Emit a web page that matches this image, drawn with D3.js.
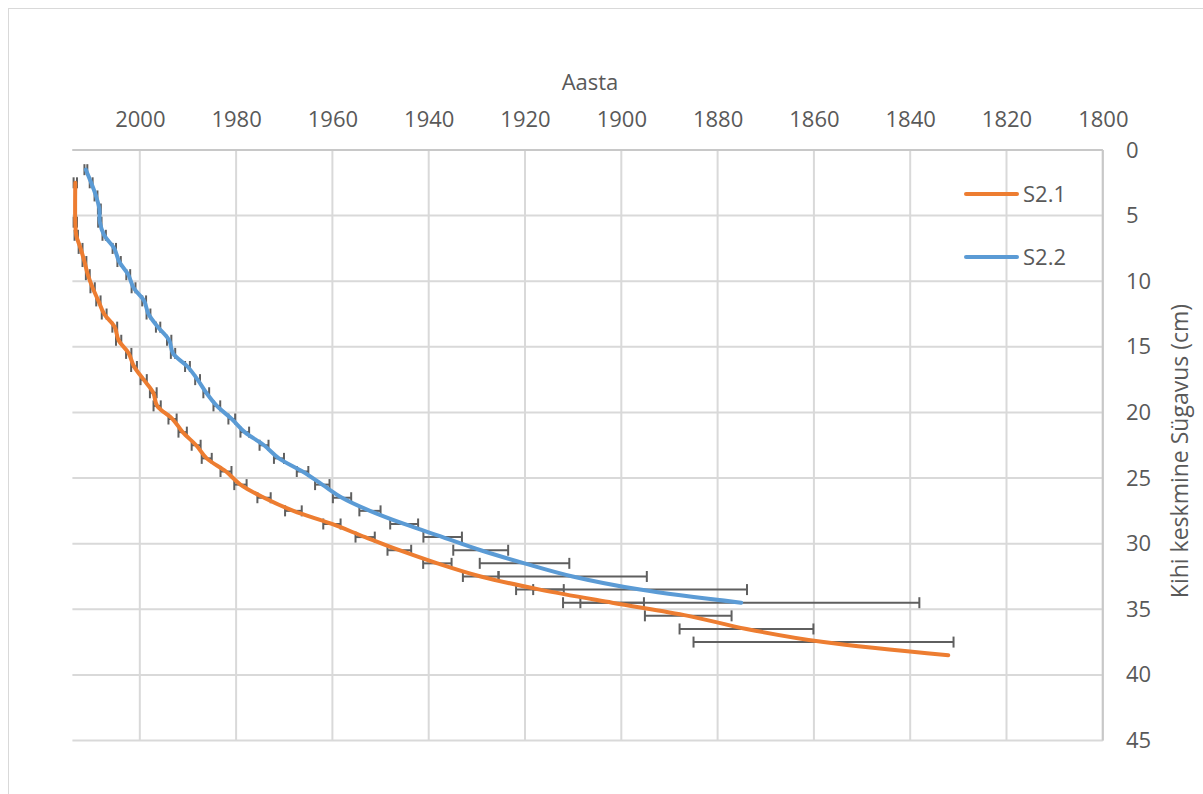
<!DOCTYPE html>
<html>
<head>
<meta charset="utf-8">
<script src="https://cdn.jsdelivr.net/npm/d3@7"></script>
<style>
  html, body { margin: 0; padding: 0; background: #fff; }
  svg { display: block; }
  text { font-family: "Open Sans", "Noto Sans", sans-serif; fill: #595959; }
</style>
</head>
<body>
<svg id="chart" width="1203" height="794"></svg>
<script>
// ---- data ----
const yearTicks = [2000, 1980, 1960, 1940, 1920, 1900, 1880, 1860, 1840, 1820, 1800];
const depthTicks = [0, 5, 10, 15, 20, 25, 30, 35, 40, 45];

const s21Depth = [2.5, 5.5, 6.5, 7.5, 8.5, 9.5, 10.5, 11.5, 12.5, 13.5, 14.5, 15.5, 16.5, 17.5, 18.5, 19.5,
  20.5, 21.5, 22.5, 23.5, 24.5, 25.5, 26.5, 27.5, 28.5, 29.5, 30.5, 31.5, 32.5, 33.5, 34.5, 35.5, 36.5, 37.5, 38.5];
const s21Year = [2013.4, 2013.4, 2013.2, 2012.3, 2011.5, 2010.8, 2009.8, 2008.6, 2007.4, 2005.2, 2004.4, 2002.3,
  2001.2, 1999.2, 1997.2, 1996.4, 1993.2, 1991.1, 1988.3, 1986.1, 1982.1, 1979.1, 1974.2, 1968.1, 1960.1,
  1953.2, 1946.1, 1938.2, 1929.2, 1916.9, 1901.9, 1886.1, 1874.0, 1858.0, 1832.1];
const s21Err = [0.35, 0.35, 0.35, 0.4, 0.4, 0.4, 0.45, 0.45, 0.5, 0.5, 0.55, 0.55, 0.6, 0.65, 0.7, 0.75,
  0.85, 0.87, 0.93, 1.04, 1.14, 1.28, 1.38, 1.73, 1.8, 2.0, 2.46, 2.95, 3.7, 4.95, 6.6, 9.0, 13.9, 27.0, null];

const s22Depth = [1.5, 2.5, 3.5, 4.5, 5.5, 6.5, 7.5, 8.5, 9.5, 10.5, 11.5, 12.5, 13.5, 14.5, 15.5, 16.5, 17.5,
  18.5, 19.5, 20.5, 21.5, 22.5, 23.5, 24.5, 25.5, 26.5, 27.5, 28.5, 29.5, 30.5, 31.5, 32.5, 33.5, 34.5];
const s22Year = [2011.2, 2010.1, 2009.1, 2008.4, 2008.3, 2007.4, 2005.3, 2004.3, 2002.4, 2001.3, 1999.1, 1998.2,
  1996.2, 1993.9, 1993.1, 1990.1, 1988.0, 1986.2, 1984.0, 1980.9, 1978.2, 1974.2, 1971.1, 1966.2, 1962.1,
  1958.0, 1952.2, 1945.1, 1937.1, 1929.2, 1920.1, 1910.1, 1896.1, 1875.1];
const s22Err = [0.3, 0.3, 0.3, 0.3, 0.35, 0.35, 0.35, 0.35, 0.4, 0.4, 0.4, 0.4, 0.45, 0.45, 0.45, 0.5, 0.5,
  0.6, 0.7, 0.7, 0.9, 0.93, 1.04, 1.2, 1.5, 1.9, 2.2, 2.9, 4.0, 5.7, 9.3, 15.4, 22.2, 37.0];

const seriesNames = ["S2.1", "S2.2"];
const seriesColors = ["#ED7D31", "#5B9BD5"];

// ---- build ----
const series = [
  { name: seriesNames[0], color: seriesColors[0], pts: s21Depth.map((d, i) => ({ d, yr: s21Year[i], e: s21Err[i] })) },
  { name: seriesNames[1], color: seriesColors[1], pts: s22Depth.map((d, i) => ({ d, yr: s22Year[i], e: s22Err[i] })) }
];

const svg = d3.select("#chart");
const x = d3.scaleLinear().domain([2014, 1800]).range([72.4, 1102.8]);
const y = d3.scaleLinear().domain([0, 45]).range([150, 740.5]);

// outer chart border
svg.append("rect").attr("x", 8.5).attr("y", 8.5).attr("width", 1210).attr("height", 810)
  .attr("fill", "none").attr("stroke", "#d9d9d9").attr("stroke-width", 1);

// gridlines
const grid = svg.append("g");
grid.selectAll("line.h").data(depthTicks).join("line")
  .attr("x1", x.range()[0]).attr("x2", x.range()[1])
  .attr("y1", d => y(d)).attr("y2", d => y(d))
  .attr("stroke", "#d9d9d9").attr("stroke-width", 2);
grid.selectAll("line.v").data(yearTicks).join("line")
  .attr("x1", d => x(d)).attr("x2", d => x(d))
  .attr("y1", y.range()[0]).attr("y2", y.range()[1])
  .attr("stroke", "#d9d9d9").attr("stroke-width", 2);

// axis lines
svg.append("line").attr("x1", x.range()[0]).attr("x2", x.range()[1]).attr("y1", y(0)).attr("y2", y(0))
  .attr("stroke", "#c8c8c8").attr("stroke-width", 2);
svg.append("line").attr("x1", x.range()[1]).attr("x2", x.range()[1]).attr("y1", y.range()[0]).attr("y2", y.range()[1])
  .attr("stroke", "#c8c8c8").attr("stroke-width", 2);

// top axis
const topAxis = d3.axisTop(x).tickValues(yearTicks).tickSize(0).tickPadding(0).tickFormat(d3.format("d"));
const gTop = svg.append("g").attr("transform", "translate(0,127)").call(topAxis);
gTop.select(".domain").remove();
gTop.selectAll("text").style("font-size", "22px").attr("fill", "#595959").attr("dy", 0);

// right axis
const rightAxis = d3.axisRight(y).tickValues(depthTicks).tickSize(0).tickPadding(0);
const gRight = svg.append("g").attr("transform", "translate(1126,0)").call(rightAxis);
gRight.select(".domain").remove();
gRight.selectAll("text").style("font-size", "22px").attr("fill", "#595959");

// axis titles
svg.append("text").attr("x", 590).attr("y", 90).attr("text-anchor", "middle")
  .style("font-size", "22px").text("Aasta");
svg.append("text").attr("transform", "translate(1188,451) rotate(-90)").attr("text-anchor", "middle")
  .style("font-size", "23px").text("Kihi keskmine Sügavus (cm)");

// error bars
const capH = 5.5;
series.forEach(s => {
  const g = svg.append("g");
  const pts = s.pts.filter(p => p.e != null);
  g.selectAll("line.bar").data(pts).join("line")
    .attr("x1", p => x(p.yr + p.e)).attr("x2", p => x(p.yr - p.e))
    .attr("y1", p => y(p.d)).attr("y2", p => y(p.d))
    .attr("stroke", "#5f5f5f").attr("stroke-width", 2);
  g.selectAll("line.capl").data(pts).join("line")
    .attr("x1", p => x(p.yr + p.e)).attr("x2", p => x(p.yr + p.e))
    .attr("y1", p => y(p.d) - capH).attr("y2", p => y(p.d) + capH)
    .attr("stroke", "#5f5f5f").attr("stroke-width", 2);
  g.selectAll("line.capr").data(pts).join("line")
    .attr("x1", p => x(p.yr - p.e)).attr("x2", p => x(p.yr - p.e))
    .attr("y1", p => y(p.d) - capH).attr("y2", p => y(p.d) + capH)
    .attr("stroke", "#5f5f5f").attr("stroke-width", 2);
});

// lines
const line = d3.line().x(p => x(p.yr)).y(p => y(p.d)).curve(d3.curveCatmullRom.alpha(0.5));
series.forEach(s => {
  svg.append("path").datum(s.pts).attr("d", line)
    .attr("fill", "none").attr("stroke", s.color).attr("stroke-width", 4)
    .attr("stroke-linecap", "round").attr("stroke-linejoin", "round");
});

// legend
const legY = [194, 257];
series.forEach((s, i) => {
  svg.append("line").attr("x1", 966).attr("x2", 1017).attr("y1", legY[i]).attr("y2", legY[i])
    .attr("stroke", s.color).attr("stroke-width", 4).attr("stroke-linecap", "round");
  svg.append("text").attr("x", 1023).attr("y", legY[i]).attr("dy", "0.35em")
    .style("font-size", "22px").text(s.name);
});
</script>
</body>
</html>
